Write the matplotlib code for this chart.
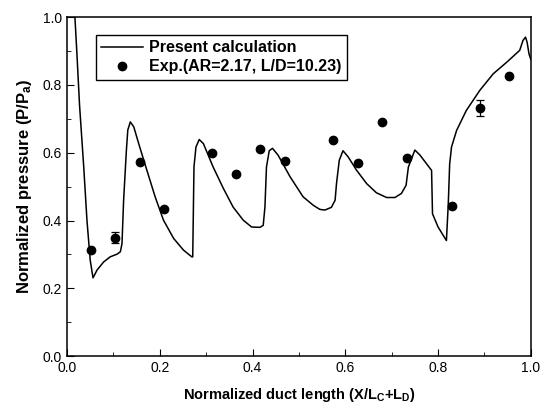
import numpy as np
import matplotlib
matplotlib.use('Agg')
import matplotlib.pyplot as plt
from matplotlib.ticker import MultipleLocator

plt.rcParams['font.family'] = ['Liberation Sans', 'DejaVu Sans']
plt.rcParams['mathtext.fontset'] = 'custom'
plt.rcParams['mathtext.rm'] = 'Liberation Sans:bold'
plt.rcParams['mathtext.it'] = 'Liberation Sans:bold'
plt.rcParams['mathtext.bf'] = 'Liberation Sans:bold'

# calculated pressure distribution
calc_x = [0.017, 0.021, 0.027, 0.036, 0.043, 0.050, 0.056, 0.0647, 0.079, 0.093, 0.108,
          0.115, 0.1185, 0.122, 0.128, 0.131, 0.1365, 0.144, 0.1545, 0.172, 0.190,
          0.208, 0.230, 0.251, 0.269, 0.271, 0.2737, 0.278, 0.285, 0.294, 0.315,
          0.337, 0.358, 0.380, 0.398, 0.416, 0.423, 0.4267, 0.430, 0.436, 0.443,
          0.455, 0.481, 0.509, 0.531, 0.545, 0.556, 0.570, 0.578, 0.581, 0.587,
          0.595, 0.606, 0.624, 0.646, 0.667, 0.689, 0.707, 0.721, 0.731, 0.736,
          0.750, 0.761, 0.786, 0.788, 0.800, 0.818, 0.822, 0.825, 0.829, 0.840,
          0.861, 0.890, 0.919, 0.948, 0.976, 0.983, 0.9885, 0.992, 0.996, 1.0]
calc_y = [1.0, 0.90, 0.74, 0.558, 0.40, 0.283, 0.231, 0.254, 0.278, 0.293, 0.301,
          0.308, 0.332, 0.46, 0.608, 0.667, 0.691, 0.676, 0.627, 0.549, 0.470,
          0.401, 0.347, 0.313, 0.293, 0.293, 0.558, 0.617, 0.639, 0.627, 0.558,
          0.495, 0.44, 0.401, 0.381, 0.380, 0.386, 0.44, 0.558, 0.606, 0.613,
          0.593, 0.529, 0.470, 0.445, 0.433, 0.431, 0.439, 0.46, 0.509, 0.578,
          0.606, 0.588, 0.549, 0.509, 0.482, 0.468, 0.468, 0.480, 0.504, 0.558,
          0.608, 0.593, 0.548, 0.420, 0.381, 0.341, 0.449, 0.567, 0.617, 0.666,
          0.725, 0.784, 0.833, 0.867, 0.902, 0.931, 0.941, 0.926, 0.892, 0.875]

# experimental data
exp_x = [0.052, 0.104, 0.158, 0.208, 0.312, 0.364, 0.416, 0.469,
         0.574, 0.627, 0.680, 0.733, 0.830, 0.891, 0.953]
exp_y = [0.313, 0.349, 0.573, 0.435, 0.598, 0.537, 0.611, 0.577,
         0.637, 0.571, 0.691, 0.584, 0.444, 0.732, 0.827]
exp_err = [0, 0.016, 0, 0, 0, 0, 0, 0, 0, 0, 0, 0, 0, 0.024, 0]

fig = plt.figure(figsize=(5.45, 4.08), dpi=100)
ax = fig.add_axes([0.123, 0.127, 0.851, 0.831])

ax.plot(calc_x, calc_y, color='black', lw=1.1, label='Present calculation')
ax.errorbar(exp_x, exp_y, yerr=exp_err, fmt='none', ecolor='black',
            capsize=3, elinewidth=0.9, capthick=0.9)
ax.plot(exp_x, exp_y, 'o', color='black', ms=6, label='Exp.(AR=2.17, L/D=10.23)')

ax.set_xlim(0, 1)
ax.set_ylim(0, 1)
ax.xaxis.set_major_locator(MultipleLocator(0.2))
ax.xaxis.set_minor_locator(MultipleLocator(0.1))
ax.yaxis.set_major_locator(MultipleLocator(0.2))
ax.yaxis.set_minor_locator(MultipleLocator(0.1))
ax.tick_params(which='both', direction='in', top=False, right=False, labelsize=10)
ax.tick_params(which='major', length=5)
ax.tick_params(which='minor', length=3)
for s in ax.spines.values():
    s.set_linewidth(1.1)

ax.set_xlabel(r'Normalized duct length (X/L$_C$+L$_D$)', fontsize=10.5, fontweight='bold', labelpad=8)
ax.set_ylabel(r'Normalized pressure (P/P$_a$)', fontsize=12, fontweight='bold', labelpad=6)

leg = ax.legend(loc='upper left', bbox_to_anchor=(0.062, 0.948), fancybox=False,
                edgecolor='black', framealpha=1, borderpad=0.35, handlelength=2.6,
                handletextpad=0.4, labelspacing=0.25, borderaxespad=0,
                prop={'weight': 'bold', 'size': 11.5})
leg.get_frame().set_linewidth(1.0)

fig.savefig('out.png', dpi=100)
